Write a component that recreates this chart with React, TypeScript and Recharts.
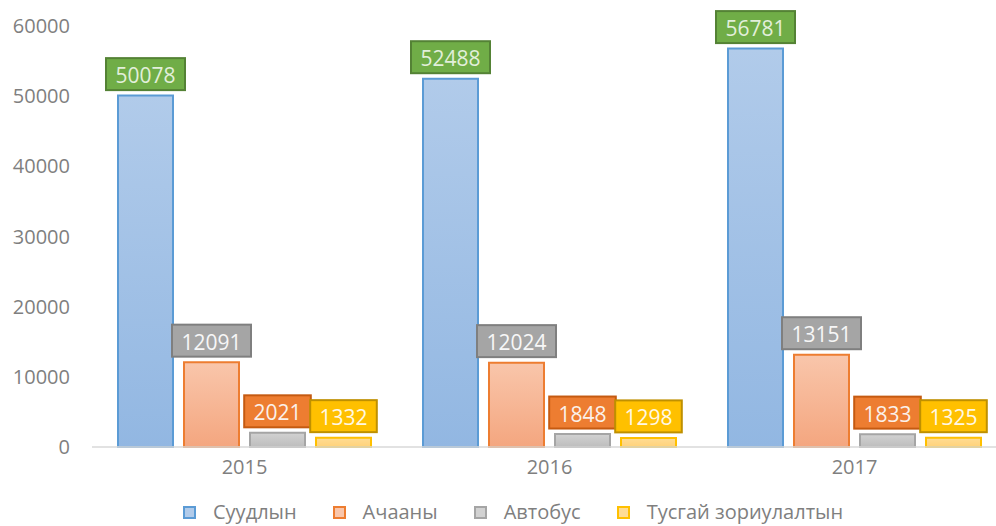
import { BarChart, Bar, XAxis, YAxis, LabelList } from "recharts";

const years = ["2015", "2016", "2017"];
const suudlyn = [50078, 52488, 56781];
const achaany = [12091, 12024, 13151];
const avtobus = [2021, 1848, 1833];
const tusgai = [1332, 1298, 1325];
const yTicks = [0, 10000, 20000, 30000, 40000, 50000, 60000];

const data = years.map((year, i) => ({
  year,
  suudlyn: suudlyn[i],
  achaany: achaany[i],
  avtobus: avtobus[i],
  tusgai: tusgai[i],
}));

const series = [
  { key: "suudlyn", name: "Суудлын", stroke: "#5b9bd5", top: "#b1cbea", bottom: "#92b7e2", box: "#70ad47", boxLine: "#548235", text: "#e2efda" },
  { key: "achaany", name: "Ачааны", stroke: "#ed7d31", top: "#f9c6ab", bottom: "#f4a67f", box: "#a5a5a5", boxLine: "#7f7f7f", text: "#f7f7f7" },
  { key: "avtobus", name: "Автобус", stroke: "#a5a5a5", top: "#d2d2d2", bottom: "#bdbdbd", box: "#ed7d31", boxLine: "#c55a11", text: "#fbf1ea" },
  { key: "tusgai", name: "Тусгай зориулалтын", stroke: "#ffc000", top: "#ffdc94", bottom: "#ffd27a", box: "#ffc000", boxLine: "#bf9000", text: "#fff8e5" },
];

const font = "'Open Sans', 'Noto Sans', sans-serif";

function boxLabel(fill: string, line: string, color: string) {
  return (props: any) => {
    const { x, y, width, value } = props;
    const text = String(value);
    const w = text.length * 12.4 + 17;
    const h = 32;
    const cx = x + width / 2;
    const top = y - 5.5 - h;
    return (
      <g>
        <rect x={cx - w / 2} y={top} width={w} height={h} fill={fill} stroke={line} strokeWidth={2} />
        <text
          x={cx}
          y={top + h / 2 + 1}
          textAnchor="middle"
          dominantBaseline="central"
          fill={color}
          fontSize={21}
          fontFamily={font}
        >
          {text}
        </text>
      </g>
    );
  };
}

function LegendBox() {
  return (
    <div
      style={{
        position: "absolute",
        left: 183,
        top: 502,
        height: 20,
        lineHeight: "20px",
        display: "flex",
        alignItems: "center",
        fontFamily: font,
        fontSize: 20,
        color: "#7f7f7f",
        whiteSpace: "nowrap",
      }}
    >
      {series.map((s) => (
        <div key={s.key} style={{ display: "flex", alignItems: "center", marginRight: 36 }}>
          <span
            style={{
              display: "inline-block",
              width: 9,
              height: 9,
              border: `2px solid ${s.stroke}`,
              background: s.top,
              marginRight: 17,
            }}
          />
          <span>{s.name}</span>
        </div>
      ))}
    </div>
  );
}

export default function App() {
  return (
    <div style={{ position: "absolute", left: 0, top: 0, width: 996, height: 526, overflow: "hidden", background: "#fff" }}>
      <BarChart
        width={1010}
        height={526}
        data={data}
        margin={{ top: 26, right: 3, left: 0, bottom: 49 }}
        barGap={11}
        barSize={55}
      >
        <defs>
          {series.map((s) => (
            <linearGradient key={s.key} id={`g-${s.key}`} x1="0" y1="0" x2="0" y2="1">
              <stop offset="0%" stopColor={s.top} />
              <stop offset="100%" stopColor={s.bottom} />
            </linearGradient>
          ))}
        </defs>
        <XAxis
          dataKey="year"
          height={30}
          axisLine={{ stroke: "#d9d9d9", strokeWidth: 1.5 }}
          tickLine={false}
          tickMargin={7}
          tick={{ fill: "#7f7f7f", fontSize: 20, fontFamily: font }}
        />
        <YAxis
          width={92}
          domain={[0, 60000]}
          ticks={yTicks}
          axisLine={false}
          tickLine={false}
          tickMargin={16}
          tick={{ fill: "#7f7f7f", fontSize: 20, fontFamily: font }}
        />
        {series.map((s) => (
          <Bar
            key={s.key}
            dataKey={s.key}
            name={s.name}
            fill={`url(#g-${s.key})`}
            stroke={s.stroke}
            strokeWidth={2}
            isAnimationActive={false}
          >
            <LabelList dataKey={s.key} content={boxLabel(s.box, s.boxLine, s.text)} />
          </Bar>
        ))}
      </BarChart>
      <LegendBox />
    </div>
  );
}
